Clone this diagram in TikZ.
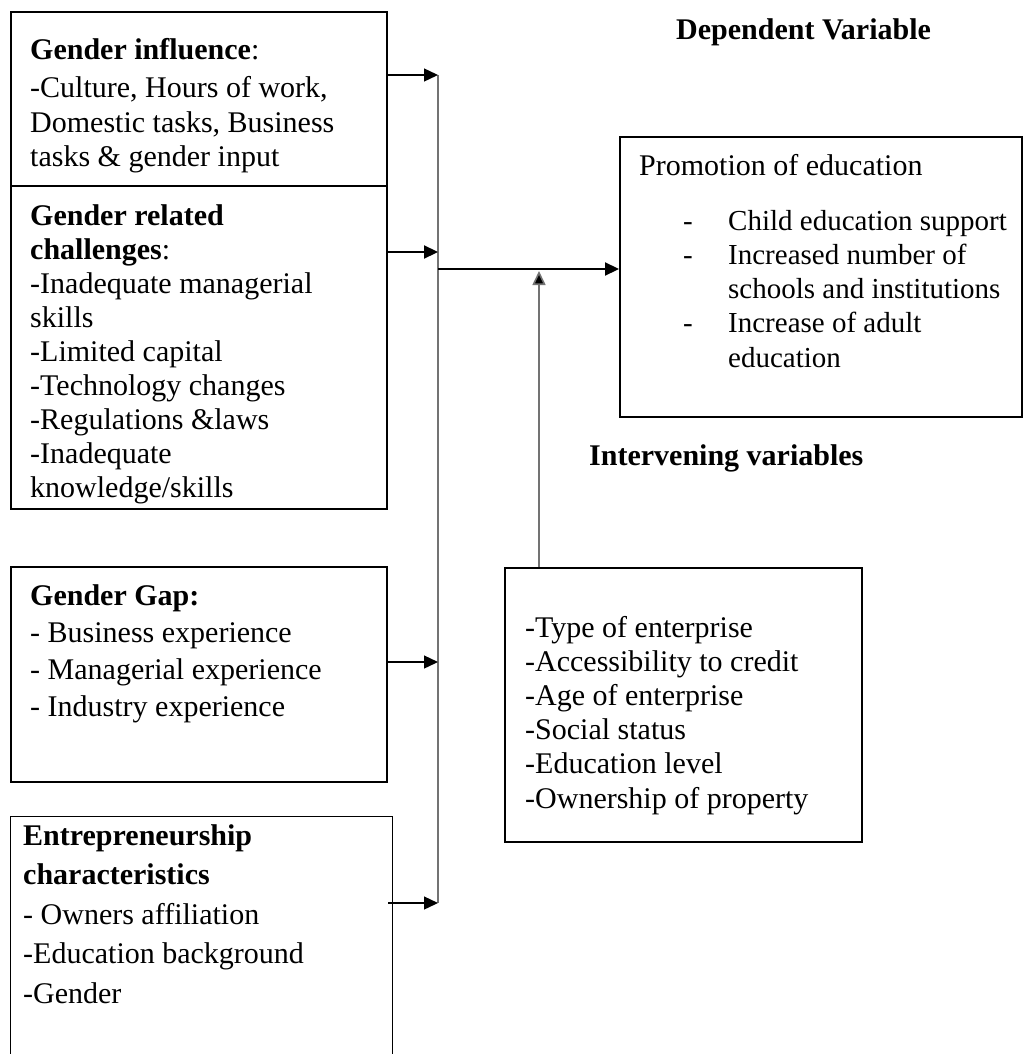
\documentclass[tikz,border=0pt]{standalone}
\usepackage{fontspec}
\setmainfont{Liberation Serif}
\usetikzlibrary{arrows.meta}
\begin{document}
\begin{tikzpicture}[x=1pt,y=-1pt,
  box/.style={draw, line width=1.8pt, inner sep=0pt, anchor=north west},
  txt/.style={inner sep=0pt, anchor=base west, text width=420pt, align=flush left,
              font=\fontsize{30}{#1}\selectfont},
  txt/.default=34.3,
  title/.style={inner sep=0pt, anchor=base west, font=\fontsize{30}{34}\selectfont\bfseries},
  conn/.style={line width=1.3pt, -{Triangle[length=14pt,width=13pt]}},
  thickconn/.style={line width=2.2pt, -{Triangle[length=14pt,width=13pt]}},
  spine/.style={line width=1.6pt, draw=black!55},
  upconn/.style={line width=1.6pt, draw=black!55, -{Triangle[length=14pt,width=13pt,fill=black]}}
]
\useasboundingbox (0,0) rectangle (1027,1054);

% boxes
\node[box, minimum width=376pt, minimum height=174pt] (gi) at (10,11) {};
\node[box, minimum width=376pt, minimum height=323pt] (gc) at (10,185) {};
\node[box, minimum width=376pt, minimum height=215pt] (gg) at (10,566) {};
\node[box, line width=1.1pt, minimum width=382pt, minimum height=270pt] (ec) at (10,816) {};
\node[box, minimum width=357pt, minimum height=274pt] (iv) at (504,567) {};
\node[box, minimum width=402pt, minimum height=280pt] (pe) at (619,136) {};

% texts
\node[txt] (gitxt) at (30,60) {\textbf{Gender influence}:\\[3.7pt]
 -Culture, Hours of work,\\ Domestic tasks, Business\\ tasks \& gender input};
\node[txt=34.1] (gctxt) at (30,225) {\textbf{Gender related}\\ \textbf{challenges}:\\
 -Inadequate managerial\\ skills\\ -Limited capital\\ -Technology changes\\
 -Regulations \&laws\\ -Inadequate\\ knowledge/skills};
\node[txt=37.3] (ggtxt) at (30,605) {\textbf{Gender Gap:}\\ - Business experience\\
 - Managerial experience\\ - Industry experience};
\node[txt=39.5] (ectxt) at (23,845) {\textbf{Entrepreneurship}\\ \textbf{characteristics}\\
 - Owners affiliation\\ -Education background\\ -Gender};
\node[txt=34.2] (ivtxt) at (525,637) {-Type of enterprise\\ -Accessibility to credit\\
 -Age of enterprise\\ -Social status\\ -Education level\\ -Ownership of property};
\node[txt] (petitle) at (639,175) {Promotion of education};
\node[txt, font=\fontsize{29}{34.3}\selectfont] (pelist) at (683,230)
 {\makebox[45pt][l]{-}Child education support\\
 \makebox[45pt][l]{-}Increased number of\\ \hspace*{45pt}schools and institutions\\
 \makebox[45pt][l]{-}Increase of adult\\ \hspace*{45pt}education};

% headings
\node[title] (dv) at (676,40) {Dependent Variable};
\node[title] (ivt) at (589,465) {Intervening variables};

% junctions
\coordinate (j1) at (438,75);
\coordinate (j2) at (438,252);
\coordinate (j3) at (438,662);
\coordinate (j4) at (438,903);
\coordinate (m) at (438,269);
\coordinate (up) at (539,271);

% connectors
\draw[spine] (j1) -- (j4);
\draw[conn] (gi.east |- j1) -- (j1);
\draw[thickconn] (gc.east |- j2) -- (j2);
\draw[conn] (gg.east |- j3) -- (j3);
\draw[conn] ([xshift=-5pt]ec.east |- j4) -- (j4);
\draw[thickconn] (m) -- (pe.west |- m);
\draw[upconn] (iv.north -| up) -- (up);
\end{tikzpicture}
\end{document}
